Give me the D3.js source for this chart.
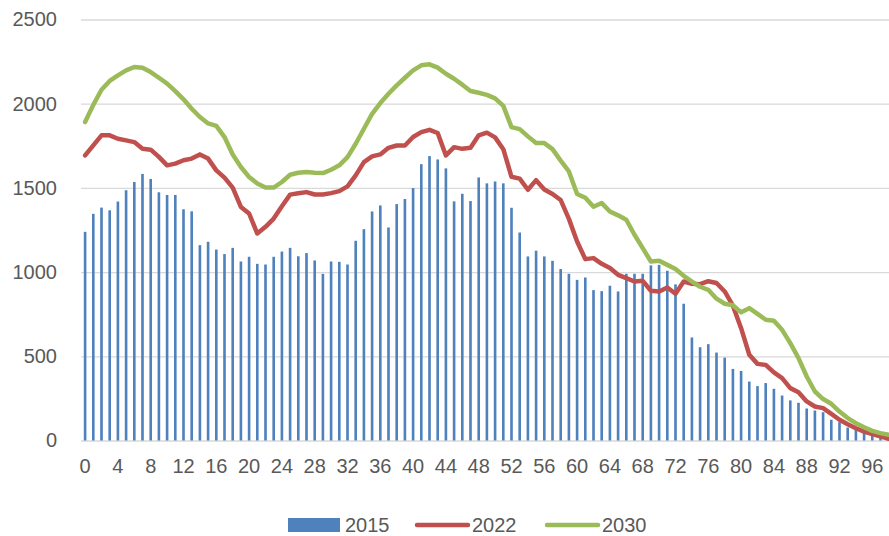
<!DOCTYPE html>
<meta charset="utf-8">
<style>
  body { margin: 0; background: white; }
  text { font-family: "Liberation Sans", Arial, sans-serif; fill: #595959; }
</style>
<body>
<script src="https://d3js.org/d3.v7.min.js"></script>
<script>

////*Data*////
const ages = d3.range(0, 99);

const pop2015 = [1239, 1346, 1383, 1367, 1419, 1486, 1535, 1583, 1553, 1474,
  1458, 1458, 1373, 1361, 1160, 1180, 1134, 1107, 1144, 1063,
  1091, 1049, 1045, 1091, 1122, 1144, 1094, 1113, 1069, 990,
  1063, 1061, 1045, 1186, 1255, 1360, 1396, 1265, 1404, 1434,
  1499, 1641, 1689, 1669, 1616, 1420, 1465, 1422, 1562, 1527,
  1538, 1527, 1382, 1235, 1093, 1127, 1093, 1067, 1018, 990,
  954, 968, 893, 887, 919, 885, 990, 990, 990, 1040,
  1043, 1008, 927, 812, 612, 554, 572, 522, 492, 425,
  413, 350, 323, 341, 307, 267, 238, 224, 190, 178,
  168, 123, 109, 77, 69, 57, 44, 34, 28];

const pop2022 = [1693, 1753, 1812, 1812, 1792, 1782, 1772, 1733, 1727, 1684,
  1634, 1644, 1664, 1674, 1699, 1674, 1604, 1561, 1502, 1387,
  1348, 1229, 1269, 1318, 1391, 1460, 1468, 1475, 1461, 1461,
  1469, 1481, 1509, 1574, 1653, 1687, 1699, 1738, 1752, 1752,
  1802, 1831, 1845, 1826, 1693, 1742, 1732, 1738, 1812, 1828,
  1800, 1730, 1566, 1555, 1489, 1546, 1491, 1464, 1428, 1316,
  1182, 1077, 1083, 1049, 1024, 984, 964, 944, 948, 889,
  885, 909, 871, 944, 931, 928, 946, 935, 885, 801,
  667, 509, 455, 449, 404, 370, 311, 287, 232, 202,
  192, 158, 123, 97, 73, 53, 38, 24, 10];

const pop2030 = [1891, 1993, 2083, 2135, 2168, 2198, 2218, 2214, 2188, 2154,
  2119, 2075, 2026, 1970, 1921, 1883, 1868, 1802, 1698, 1624,
  1565, 1526, 1502, 1502, 1535, 1578, 1590, 1594, 1590, 1588,
  1608, 1634, 1683, 1762, 1851, 1940, 2004, 2059, 2109, 2154,
  2198, 2228, 2234, 2214, 2178, 2148, 2113, 2075, 2065, 2052,
  2032, 1987, 1861, 1849, 1806, 1766, 1766, 1730, 1662, 1598,
  1464, 1441, 1388, 1410, 1360, 1337, 1311, 1222, 1142, 1063,
  1067, 1043, 1018, 978, 944, 913, 895, 842, 812, 803,
  761, 786, 752, 717, 711, 657, 578, 489, 380, 291,
  246, 218, 172, 133, 103, 79, 57, 44, 34];

const yTicks = [0, 500, 1000, 1500, 2000, 2500];
const xTickAges = d3.range(0, 99, 4);

const legendItems = [
  { name: "2015", kind: "bar",  color: "#4F81BD" },
  { name: "2022", kind: "line", color: "#C0504D" },
  { name: "2030", kind: "line", color: "#9BBB59" }
];

////*Set-up*////
const plotVars = ({
  width: 889,
  height: 536,
  left: 81,
  step: 8.2,
  top: 19.5,
  bottom: 440.5
});

const svg = d3.select("body")
  .append("svg")
  .attr("width", plotVars.width)
  .attr("height", plotVars.height);

const xScale = d3.scaleBand()
  .domain(ages)
  .range([plotVars.left, plotVars.left + plotVars.step * ages.length])
  .paddingInner(0.68)
  .paddingOuter(0.34);

const yScale = d3.scaleLinear()
  .domain([0, 2500])
  .range([plotVars.bottom, plotVars.top]);

const xMid = a => xScale(a) + xScale.bandwidth() / 2;

////*Grid and y-axis*////
const yAxis = d3.axisLeft(yScale)
  .tickValues(yTicks)
  .tickSize(-(plotVars.width - plotVars.left))
  .tickPadding(24)
  .tickFormat(d3.format("d"));

svg.append("g")
  .attr("transform", `translate(${plotVars.left},0)`)
  .call(yAxis)
  .call(g => g.select(".domain").remove())
  .call(g => g.selectAll("line").attr("stroke", "#D9D9D9").attr("stroke-width", 1.3))
  .call(g => g.selectAll("text")
    .attr("font-size", 20)
    .attr("fill", "#595959")
    .attr("font-family", "Liberation Sans, Arial, sans-serif"));

////*Bars*////
svg.append("g")
  .selectAll("rect")
  .data(ages)
  .join("rect")
  .attr("x", a => xScale(a))
  .attr("y", a => yScale(pop2015[a]))
  .attr("width", xScale.bandwidth())
  .attr("height", a => yScale(0) - yScale(pop2015[a]))
  .attr("fill", "#4F81BD");

////*Lines*////
const line = d3.line()
  .x((d, i) => xMid(ages[i]))
  .y(d => yScale(d));

[[pop2022, "#C0504D"], [pop2030, "#9BBB59"]].forEach(([vals, color]) => {
  svg.append("path")
    .datum(vals)
    .attr("d", line)
    .attr("fill", "none")
    .attr("stroke", color)
    .attr("stroke-width", 4.5)
    .attr("stroke-linejoin", "round")
    .attr("stroke-linecap", "round");
});

////*X-axis*////
const xAxis = d3.axisBottom(xScale)
  .tickValues(xTickAges)
  .tickSize(0)
  .tickPadding(18);

svg.append("g")
  .attr("transform", `translate(0,${plotVars.bottom})`)
  .call(xAxis)
  .call(g => g.select(".domain").remove())
  .call(g => g.selectAll("text")
    .attr("font-size", 20)
    .attr("fill", "#595959")
    .attr("font-family", "Liberation Sans, Arial, sans-serif"));

////*Legend*////
const legendX = [288, 415, 545];
const legend = svg.append("g")
  .selectAll("g")
  .data(legendItems)
  .join("g")
  .attr("transform", (d, i) => `translate(${legendX[i]},525)`);

legend.filter(d => d.kind === "bar")
  .append("rect")
  .attr("x", 0).attr("y", -7)
  .attr("width", 52).attr("height", 14)
  .attr("fill", d => d.color);

legend.filter(d => d.kind === "line")
  .append("line")
  .attr("x1", 2).attr("x2", 53)
  .attr("stroke", d => d.color)
  .attr("stroke-width", 4.5)
  .attr("stroke-linecap", "round");

legend.append("text")
  .attr("x", 57)
  .attr("dy", "0.36em")
  .attr("font-size", 20)
  .text(d => d.name);

</script>
</body>
</html>
